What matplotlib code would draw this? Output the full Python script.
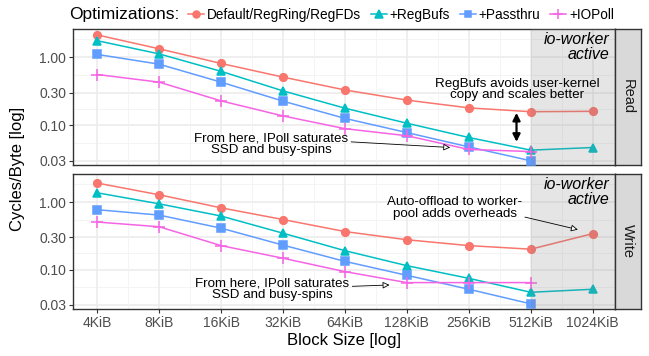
import numpy as np
import matplotlib
matplotlib.use("Agg")
import matplotlib.pyplot as plt
from matplotlib.lines import Line2D

plt.rcParams['font.family'] = ['Liberation Sans', 'DejaVu Sans']

block_sizes = ["4KiB", "8KiB", "16KiB", "32KiB", "64KiB", "128KiB", "256KiB", "512KiB", "1024KiB"]
series = ["Default/RegRing/RegFDs", "+RegBufs", "+Passthru", "+IOPoll"]
colors = ["#F8766D", "#00BFC4", "#619CFF", "#F564E3"]
markers = ["o", "^", "s", "+"]

# cycles/byte, read panel (None = not measured)
read_default = [2.13, 1.33, 0.81, 0.51, 0.33, 0.234, 0.18, 0.158, 0.16]
read_regbufs = [1.75, 1.12, 0.62, 0.32, 0.178, 0.107, 0.066, 0.043, 0.047]
read_passthru = [1.10, 0.79, 0.43, 0.226, 0.126, 0.078, 0.048, 0.030, None]
read_iopoll = [0.557, 0.43, 0.228, 0.137, 0.089, 0.070, 0.044, 0.041, None]

# cycles/byte, write panel
write_default = [1.91, 1.28, 0.82, 0.55, 0.365, 0.276, 0.226, 0.20, 0.34]
write_regbufs = [1.37, 0.94, 0.62, 0.345, 0.19, 0.114, 0.074, 0.046, 0.051]
write_passthru = [0.77, 0.64, 0.41, 0.23, 0.132, 0.082, 0.051, 0.031, None]
write_iopoll = [0.505, 0.43, 0.226, 0.147, 0.093, 0.064, 0.064, 0.064, None]

panels = [("Read", [read_default, read_regbufs, read_passthru, read_iopoll]),
          ("Write", [write_default, write_regbufs, write_passthru, write_iopoll])]

y_breaks = [0.03, 0.1, 0.3, 1.0]
y_labels = ["0.03", "0.10", "0.30", "1.00"]

fig = plt.figure(figsize=(6.49, 3.56), dpi=100)
W, H = 649.0, 356.0

def px_axes(x0, y0, x1, y1):
    return fig.add_axes([x0 / W, 1 - y1 / H, (x1 - x0) / W, (y1 - y0) / H])

def msize(m):
    return 8 if m == "+" else (6 if m == "^" else 5.5)

boxes = [(73, 29, 615, 165), (73, 174, 615, 309)]
axes = []
xs = np.arange(len(block_sizes))
for (name, data), box in zip(panels, boxes):
    ax = px_axes(*box)
    axes.append(ax)
    ax.set_yscale("log")
    ax.set_ylim(0.026, 2.6)
    ax.set_xlim(-0.39, 8.36)
    # grid like theme_bw
    minor_y = [np.sqrt(a * b) for a, b in zip([0.01] + y_breaks, y_breaks + [3.33])]
    for v in minor_y:
        ax.axhline(v, color="#F2F2F2", lw=0.6, zorder=0)
    for v in y_breaks:
        ax.axhline(v, color="#EBEBEB", lw=1.1, zorder=0)
    for v in xs[:-1] + 0.5:
        ax.axvline(v, color="#F2F2F2", lw=0.6, zorder=0)
    for v in xs:
        ax.axvline(v, color="#EBEBEB", lw=1.1, zorder=0)
    ax.set_yticks(y_breaks)
    ax.set_yticklabels(y_labels)
    ax.yaxis.set_minor_locator(matplotlib.ticker.NullLocator())
    ax.tick_params(axis="y", length=3, width=0.8, color="#333333",
                   labelcolor="#4D4D4D", labelsize=10, pad=2)
    for v, c, m in zip(data, colors, markers):
        xv = [x for x, y in zip(xs, v) if y is not None]
        yv = [y for y in v if y is not None]
        ax.plot(xv, yv, color=c, lw=1.1, marker=m, ms=msize(m), mew=1.1, zorder=3)
    ax.axvspan(7, 8.36, color="#808080", alpha=0.2, lw=0, zorder=4)
    for s in ax.spines.values():
        s.set_color("#333333")
        s.set_linewidth(1.0)
    ax.text(0.99, 0.975, "io-worker\nactive", transform=ax.transAxes, ha="right",
            va="top", fontstyle="italic", fontsize=11.5, linespacing=0.95, zorder=5)
    # facet strip
    sx = px_axes(615, box[1], 641, box[3])
    sx.set_facecolor("#D9D9D9")
    sx.set_xticks([])
    sx.set_yticks([])
    for s in sx.spines.values():
        s.set_color("#333333")
        s.set_linewidth(1.0)
    sx.text(0.5, 0.5, name, rotation=-90, ha="center", va="center",
            fontsize=10.5, color="#1A1A1A", transform=sx.transAxes)

top, bot = axes
top.set_xticks(xs)
top.tick_params(axis="x", length=0, labelbottom=False)
bot.set_xticks(xs)
bot.set_xticklabels(block_sizes)
bot.tick_params(axis="x", length=3, width=0.8, color="#333333",
                labelcolor="#4D4D4D", labelsize=10, pad=2)

arrow_open = dict(arrowstyle="-|>", fc="white", ec="black", lw=0.6,
                  mutation_scale=10, shrinkA=0, shrinkB=0)

# annotations, read panel
top.text(6.78, 0.225, "RegBufs avoids user-kernel\ncopy and scales better",
         ha="center", va="bottom", fontsize=9.6, linespacing=0.95, zorder=6)
top.annotate("", xy=(6.77, 0.057), xytext=(6.77, 0.152),
             arrowprops=dict(arrowstyle="<|-|>", color="black", lw=1.6,
                             mutation_scale=11, shrinkA=0, shrinkB=0), zorder=6)
top.annotate("From here, IPoll saturates\nSSD and busy-spins", xy=(5.7, 0.047),
             xytext=(2.81, 0.052), ha="center", va="center", fontsize=9.6,
             linespacing=0.95, zorder=6,
             arrowprops=dict(arrow_open, relpos=(1.0, 0.62)))

# annotations, write panel
bot.annotate("From here, IPoll saturates\nSSD and busy-spins", xy=(4.72, 0.059),
             xytext=(2.83, 0.051), ha="center", va="center", fontsize=9.6,
             linespacing=0.95, zorder=6,
             arrowprops=dict(arrow_open, relpos=(1.0, 0.62)))
bot.annotate("Auto-offload to worker-\npool adds overheads", xy=(7.76, 0.39),
             xytext=(5.77, 0.81), ha="center", va="center", fontsize=9.6,
             linespacing=0.95, zorder=6,
             arrowprops=dict(arrow_open, relpos=(1.0, 0.15)))

fig.text(18 / W, 1 - 169 / H, "Cycles/Byte [log]", rotation=90, ha="center",
         va="center", fontsize=12)
fig.text(344 / W, 1 - 340 / H, "Block Size [log]", ha="center", va="center",
         fontsize=12)

# legend
fig.text(69 / W, 1 - 15 / H, "Optimizations:", ha="left", va="center", fontsize=12.5)
handles = [Line2D([], [], color=c, marker=m, lw=1.1, mew=1.1, ms=msize(m) - 0.5)
           for c, m in zip(colors, markers)]
fig.legend(handles, series, loc="center left", bbox_to_anchor=(188 / W, 1 - 15 / H),
           ncol=4, frameon=False, fontsize=9.8, handlelength=1.2,
           handletextpad=0.2, columnspacing=0.7, borderpad=0, borderaxespad=0)

fig.savefig("out.png", dpi=100)
